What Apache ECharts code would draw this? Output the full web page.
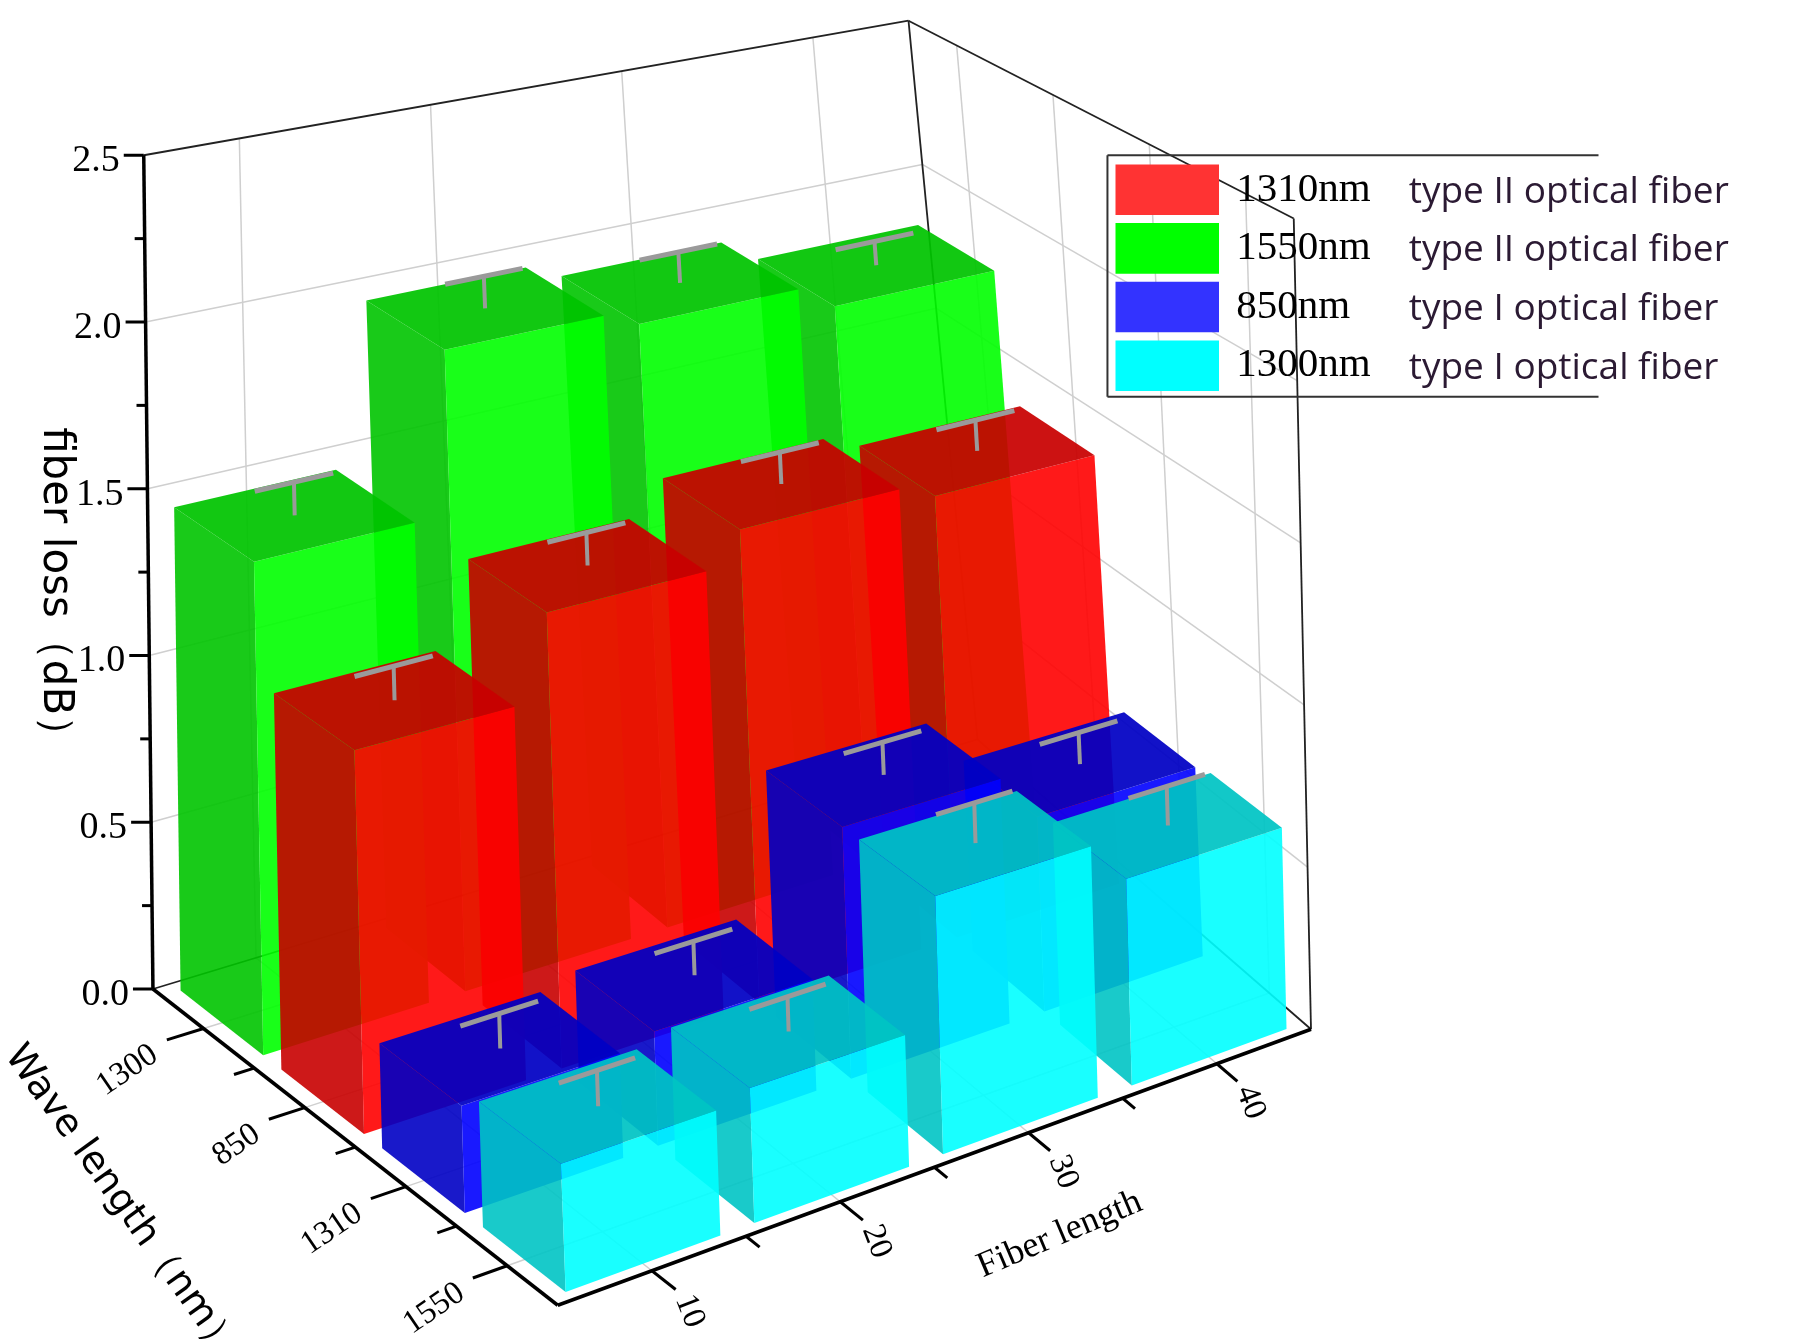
<!DOCTYPE html>
<html>
<head>
<meta charset="utf-8">
<script src="https://cdn.jsdelivr.net/npm/echarts@6/dist/echarts.min.js"></script>
<style>html,body{margin:0;padding:0;background:#fff}#main{width:1794px;height:1339px}</style>
</head>
<body>
<div id="main"></div>
<script>
// categories
var fiberLengths = ['10', '20', '30', '40'];
var waveLabels = ['1300', '850', '1310', '1550'];   // back -> front, as printed on axis
var yTicks = [0, 0.5, 1.0, 1.5, 2.0, 2.5];
var yMax = 2.5;

// series values (back row first)
var green1550 = [1.45, 1.95, 1.9, 1.82];
var green1550Err = [0.1, 0.1, 0.1, 0.08];
var red1310 = [1.1, 1.35, 1.45, 1.4];
var red1310Err = [0.1, 0.1, 0.1, 0.1];
var blue850 = [0.3, 0.33, 0.75, 0.6];
var blue850Err = [0.1, 0.1, 0.1, 0.1];
var cyan1300 = [0.35, 0.38, 0.75, 0.62];
var cyan1300Err = [0.1, 0.1, 0.12, 0.12];

var rows = [
    { name: '1550nm', type: 'type II optical fiber', vals: green1550, err: green1550Err, front: '#00ff00', side: '#00c400', key: '#00ff00' },
    { name: '1310nm', type: 'type II optical fiber', vals: red1310, err: red1310Err, front: '#ff0000', side: '#c80000', key: '#ff3333' },
    { name: '850nm', type: 'type I optical fiber', vals: blue850, err: blue850Err, front: '#0000ff', side: '#0000c4', key: '#3333ff' },
    { name: '1300nm', type: 'type I optical fiber', vals: cyan1300, err: cyan1300Err, front: '#00ffff', side: '#00c4c4', key: '#00ffff' }
];
var legendOrder = [1, 0, 2, 3];

// box corners of the 3D frame (reference picture at 1560 wide), [u][w][v]
var S = 1794 / 1560;
var C = {
    '000': [133, 860], '001': [125, 135],
    '100': [850, 643], '101': [790, 18],
    '010': [485, 1135], '011': [455, 335],
    '110': [1140, 895], '111': [1125, 190]
};

function lerp(a, b, t) { return [a[0] + (b[0] - a[0]) * t, a[1] + (b[1] - a[1]) * t]; }
function P(api, u, w, v) {
    var c00 = lerp(C['000'], C['100'], u), c01 = lerp(C['001'], C['101'], u);
    var c10 = lerp(C['010'], C['110'], u), c11 = lerp(C['011'], C['111'], u);
    var b = lerp(c00, c10, w), t = lerp(c01, c11, w);
    var p = lerp(b, t, v);
    return api.coord([p[0] * S, p[1] * S]);
}

var n = fiberLengths.length;
var half = 0.41 / n;

function line(a, b, color, w) {
    return { type: 'line', shape: { x1: a[0], y1: a[1], x2: b[0], y2: b[1] }, style: { stroke: color, lineWidth: w } };
}
function text(p, str, opt) {
    return {
        type: 'text', x: p[0], y: p[1], rotation: opt.rot || 0,
        style: { text: str, fill: opt.fill || '#000', font: opt.font, align: opt.align || 'center', verticalAlign: opt.va || 'middle' }
    };
}

function renderFrame(params, api) {
    if (params.dataIndex !== 0) return;
    var ch = [];
    var grid = '#cfcfcf';
    // grid lines
    for (var i = 0; i < n; i++) {
        var u = (i + 0.5) / n;
        ch.push(line(P(api, u, 0, 0), P(api, u, 0, 1), grid, 1.5));
        ch.push(line(P(api, u, 0, 0), P(api, u, 1, 0), grid, 1.5));
        var w = (i + 0.5) / n;
        ch.push(line(P(api, 1, w, 0), P(api, 1, w, 1), grid, 1.5));
        ch.push(line(P(api, 0, w, 0), P(api, 1, w, 0), grid, 1.5));
    }
    yTicks.forEach(function (t) {
        if (t === 0 || t === yMax) return;
        var v = t / yMax;
        ch.push(line(P(api, 0, 0, v), P(api, 1, 0, v), grid, 1.5));
        ch.push(line(P(api, 1, 0, v), P(api, 1, 1, v), grid, 1.5));
    });
    // frame edges
    ch.push(line(P(api, 0, 0, 1), P(api, 1, 0, 1), '#222', 1.8));
    ch.push(line(P(api, 1, 0, 1), P(api, 1, 0, 0), '#222', 1.8));
    ch.push(line(P(api, 1, 0, 1), P(api, 1, 1, 1), '#222', 1.8));
    ch.push(line(P(api, 1, 1, 1), P(api, 1, 1, 0), '#222', 1.8));
    ch.push(line(P(api, 1, 0, 0), P(api, 1, 1, 0), '#222', 1.8));
    ch.push(line(P(api, 0, 0, 0), P(api, 1, 0, 0), '#222', 1.8));
    // axes
    ch.push(line(P(api, 0, 0, 0), P(api, 0, 0, 1), '#000', 3.5));
    ch.push(line(P(api, 0, 0, 0), P(api, 0, 1, 0), '#000', 3.5));
    ch.push(line(P(api, 0, 1, 0), P(api, 1, 1, 0), '#000', 3.5));
    // y ticks + labels
    for (var k = 0; k <= 10; k++) {
        var v = k * 0.25 / yMax;
        var p = P(api, 0, 0, v);
        ch.push(line(p, [p[0] - (k % 2 ? 10 : 20), p[1]], '#000', 3));
        if (k % 2 === 0) {
            ch.push(text([p[0] - 24, p[1] + 6], yTicks[k / 2].toFixed(1), { font: '38px "Liberation Serif"', align: 'right' }));
        }
    }
    ch.push(text([48 * S, 515 * S], 'fiber loss（dB）', { font: '42px "DejaVu Sans"', rot: -Math.PI / 2 }));
    // wavelength ticks
    for (var k = 1; k < 2 * n; k++) {
        var w = k / (2 * n);
        var a = P(api, 0, w, 0);
        if (k % 2) {
            ch.push(line(a, P(api, -0.045, w, 0), '#000', 3));
            var lp = P(api, -0.06, w, 0);
            ch.push(text([lp[0], lp[1] + 8], waveLabels[(k - 1) / 2], { font: '33px "Liberation Serif"', align: 'right', rot: 0.6 }));
        } else {
            ch.push(line(a, P(api, -0.025, w, 0), '#000', 3));
        }
    }
    var wp = P(api, -0.27, 0.45, 0);
    ch.push(text(wp, 'Wave length（nm）', { font: '38px "DejaVu Sans"', rot: -0.95 }));
    // fiber ticks
    for (var k = 1; k < 2 * n; k++) {
        var u = k / (2 * n);
        var a = P(api, u, 1, 0);
        if (k % 2) {
            ch.push(line(a, P(api, u, 1.06, 0), '#000', 3));
            var lp = P(api, u, 1.08, 0);
            ch.push(text(lp, fiberLengths[(k - 1) / 2], { font: '33px "Liberation Serif"', align: 'left', rot: -1.2 }));
        } else {
            ch.push(line(a, P(api, u, 1.035, 0), '#000', 3));
        }
    }
    var fp = P(api, 0.54, 1.26, 0);
    ch.push(text(fp, 'Fiber length', { font: '36px "Liberation Serif"', rot: 0.4 }));
    // legend
    var L = function (x, y) { return api.coord([x * S, y * S]); };
    ch.push(line(L(963, 135), L(1390, 135), '#333', 2));
    ch.push(line(L(963, 135), L(963, 345), '#333', 2));
    ch.push(line(L(963, 345), L(1390, 345), '#333', 2));
    legendOrder.forEach(function (ri, j) {
        var r = rows[ri];
        var yc = 165 + j * 51;
        var p1 = L(970, yc - 22), p2 = L(1060, yc + 22);
        ch.push({ type: 'rect', shape: { x: p1[0], y: p1[1], width: p2[0] - p1[0], height: p2[1] - p1[1] }, style: { fill: r.key } });
        ch.push(text(L(1075, yc), r.name, { font: '41px "Liberation Serif"', align: 'left' }));
        ch.push(text(L(1225, yc + 2), r.type, { font: '37px "Open Sans"', align: 'left', fill: '#2b1a33' }));
    });
    return { type: 'group', children: ch };
}

function makeBarRender(rowIdx) {
    var r = rows[rowIdx];
    var wc = (rowIdx + 0.5) / rows.length;
    return function (params, api) {
        var i = api.value(0), val = api.value(1), err = api.value(2);
        var uc = (i + 0.5) / n;
        var u0 = uc - half, u1 = uc + half, w0 = wc - half, w1 = wc + half;
        var v = val / yMax;
        var fr = [P(api, u0, w1, 0), P(api, u1, w1, 0), P(api, u1, w1, v), P(api, u0, w1, v)];
        var lf = [P(api, u0, w0, 0), P(api, u0, w1, 0), P(api, u0, w1, v), P(api, u0, w0, v)];
        var tp = [P(api, u0, w0, v), P(api, u1, w0, v), P(api, u1, w1, v), P(api, u0, w1, v)];
        var ve = (val + err) / yMax;
        var top = P(api, uc, wc, v), et = P(api, uc, wc, ve);
        var c1 = P(api, uc - 0.05, wc, ve), c2 = P(api, uc + 0.05, wc, ve);
        return {
            type: 'group', children: [
                { type: 'polygon', shape: { points: lf }, style: { fill: r.side, opacity: 0.9 } },
                { type: 'polygon', shape: { points: fr }, style: { fill: r.front, opacity: 0.9 } },
                { type: 'polygon', shape: { points: tp }, style: { fill: r.side, opacity: 0.93 } },
                line(top, et, '#9a9a9a', 4),
                line(c1, c2, '#9a9a9a', 5)
            ]
        };
    };
}

var series = [{ type: 'custom', z: 1, clip: false, renderItem: renderFrame, data: [[0, 0]] }];
rows.forEach(function (r, ri) {
    var data = [];
    for (var i = n - 1; i >= 0; i--) data.push([i, r.vals[i], r.err[i]]);
    series.push({ type: 'custom', name: r.name, z: 2 + ri, clip: false, renderItem: makeBarRender(ri), data: data });
});

var chart = echarts.init(document.getElementById('main'));
chart.setOption({
    animation: false,
    backgroundColor: '#fff',
    grid: { left: 0, right: 0, top: 0, bottom: 0 },
    xAxis: { type: 'value', min: 0, max: 1794, show: false },
    yAxis: { type: 'value', min: 0, max: 1339, inverse: true, show: false },
    series: series
});
</script>
</body>
</html>
